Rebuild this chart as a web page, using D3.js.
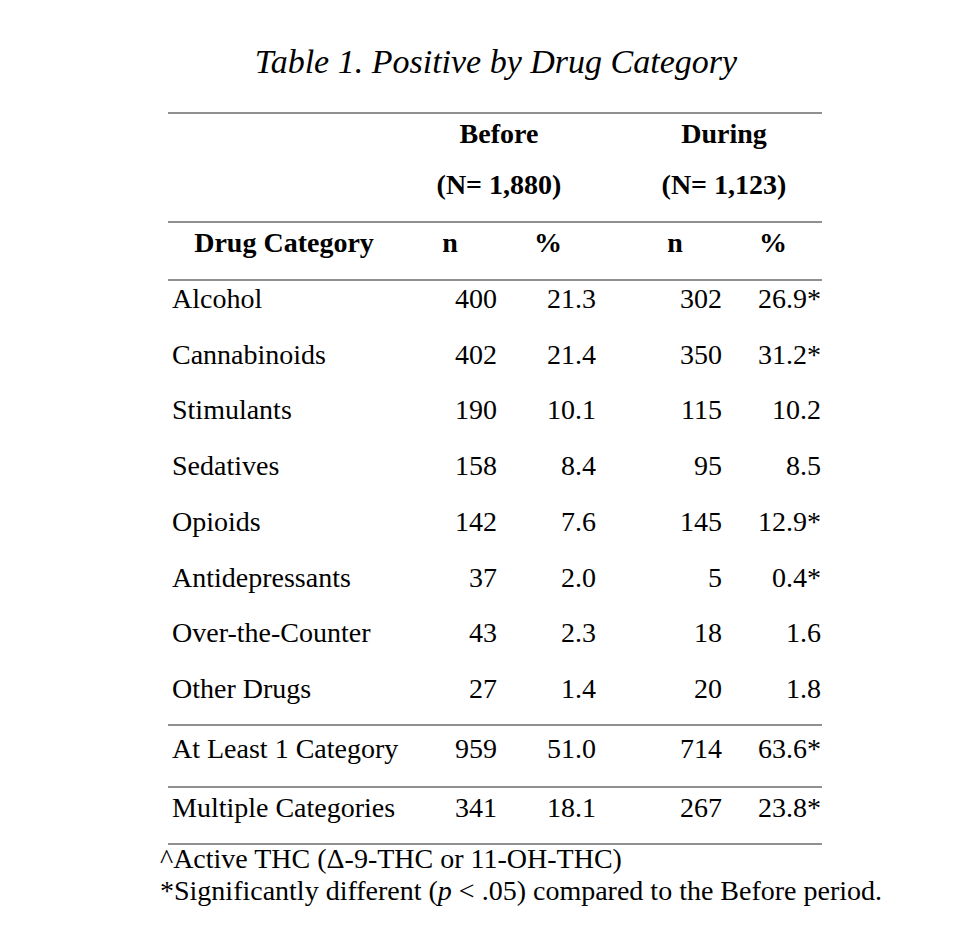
<!DOCTYPE html>
<html>
<head>
<meta charset="utf-8">
<script src="https://cdn.jsdelivr.net/npm/d3@7"></script>
<style>
  body { margin: 0; background: #fff; }
  svg text { font-family: "Liberation Serif", "Times New Roman", serif; fill: #000; }
  .rule { stroke: #222; stroke-width: 1.2; }
</style>
</head>
<body>
<svg id="chart" width="976" height="942"></svg>
<script>

////////////////////////// DATA //////////////////////////

const categories = ['Alcohol', 'Cannabinoids', 'Stimulants', 'Sedatives', 'Opioids',
  'Antidepressants', 'Over-the-Counter', 'Other Drugs']
const beforeN = [400, 402, 190, 158, 142, 37, 43, 27]
const beforePct = [21.3, 21.4, 10.1, 8.4, 7.6, 2.0, 2.3, 1.4]
const duringN = [302, 350, 115, 95, 145, 5, 18, 20]
const duringPct = [26.9, 31.2, 10.2, 8.5, 12.9, 0.4, 1.6, 1.8]
const duringSig = [true, true, false, false, true, true, false, false]

const summaryLabels = ['At Least 1 Category', 'Multiple Categories']
const summaryBeforeN = [959, 341]
const summaryBeforePct = [51.0, 18.1]
const summaryDuringN = [714, 267]
const summaryDuringPct = [63.6, 23.8]
const summarySig = [true, true]

const periods = ['Before', 'During']
const periodTotals = ['(N= 1,880)', '(N= 1,123)']
const columns = ['nB', 'pB', 'nD', 'pD']
const columnHeads = ['n', '%', 'n', '%']

const titleText = 'Table 1. Positive by Drug Category'
const notes = ['^Active THC (\u0394-9-THC or 11-OH-THC)']


////////////////////////// SETUP //////////////////////////

const svg = d3.select('#chart')
const fontSize = 28
const left = 168, right = 822

// right edge of each numeric column
const xCol = d3.scaleOrdinal().domain(columns).range([497, 596, 722, 821])
// center of each header group
const xPeriod = d3.scaleOrdinal().domain(periods).range([499, 724])
// baselines of main rows and summary rows
const yRow = d3.scaleLinear().domain([0, categories.length - 1]).range([308, 698])
const ySum = d3.scaleLinear().domain([0, 1]).range([758, 817])

const fmt = d3.format('.1f')

const rows = categories.map((c, i) => ({
  label: c,
  cells: [beforeN[i], fmt(beforePct[i]), duringN[i], fmt(duringPct[i]) + (duringSig[i] ? '*' : '')],
  y: yRow(i)
}))
const sumRows = summaryLabels.map((c, i) => ({
  label: c,
  cells: [summaryBeforeN[i], fmt(summaryBeforePct[i]), summaryDuringN[i],
    fmt(summaryDuringPct[i]) + (summarySig[i] ? '*' : '')],
  y: ySum(i)
}))


////////////////////////// TITLE & HEADER //////////////////////////

svg.append('text')
  .attr('x', 496).attr('y', 73)
  .attr('text-anchor', 'middle')
  .style('font-style', 'italic')
  .style('font-size', '34px')
  .text(titleText)

// horizontal rules
const rules = [113, 222, 280, 725, 787, 844]
svg.selectAll('.rule')
  .data(rules)
  .enter()
  .append('line')
  .attr('class', 'rule')
  .attr('x1', left).attr('x2', right)
  .attr('y1', d => d).attr('y2', d => d)

svg.selectAll('.period')
  .data(periods)
  .enter()
  .append('text')
  .attr('class', 'period')
  .attr('x', d => xPeriod(d)).attr('y', 143)
  .attr('text-anchor', 'middle')
  .style('font-weight', 'bold').style('font-size', fontSize + 'px')
  .text(d => d)

svg.selectAll('.total')
  .data(periodTotals)
  .enter()
  .append('text')
  .attr('class', 'total')
  .attr('x', (d, i) => xPeriod(periods[i])).attr('y', 194)
  .attr('text-anchor', 'middle')
  .style('font-weight', 'bold').style('font-size', fontSize + 'px')
  .text(d => d)

svg.append('text')
  .attr('x', 284).attr('y', 252)
  .attr('text-anchor', 'middle')
  .style('font-weight', 'bold').style('font-size', fontSize + 'px')
  .text('Drug Category')

svg.selectAll('.colhead')
  .data(columnHeads)
  .enter()
  .append('text')
  .attr('class', 'colhead')
  .attr('x', (d, i) => xCol(columns[i]) - (i % 2 ? 48 : 47))
  .attr('y', 252)
  .attr('text-anchor', 'middle')
  .style('font-weight', 'bold').style('font-size', fontSize + 'px')
  .text(d => d)


////////////////////////// BODY //////////////////////////

const drawRows = (data, cls) => {
  const g = svg.selectAll('.' + cls)
    .data(data)
    .enter()
    .append('g')
    .attr('class', cls)
    .attr('transform', d => `translate(0,${d.y})`)

  g.append('text')
    .attr('x', 172)
    .style('font-size', fontSize + 'px')
    .text(d => d.label)

  g.selectAll('.cell')
    .data(d => d.cells)
    .enter()
    .append('text')
    .attr('class', 'cell')
    .attr('x', (d, i) => xCol(columns[i]))
    .attr('text-anchor', 'end')
    .style('font-size', fontSize + 'px')
    .text(d => d)
}

drawRows(rows, 'row')
drawRows(sumRows, 'sumrow')


////////////////////////// NOTES //////////////////////////

svg.append('text')
  .attr('x', 160).attr('y', 868)
  .style('font-size', fontSize + 'px')
  .text(notes[0])

const note2 = svg.append('text')
  .attr('x', 160).attr('y', 900)
  .style('font-size', fontSize + 'px')
note2.append('tspan').text('*Significantly different (')
note2.append('tspan').style('font-style', 'italic').text('p')
note2.append('tspan').text(' < .05) compared to the Before period.')

</script>
</body>
</html>
